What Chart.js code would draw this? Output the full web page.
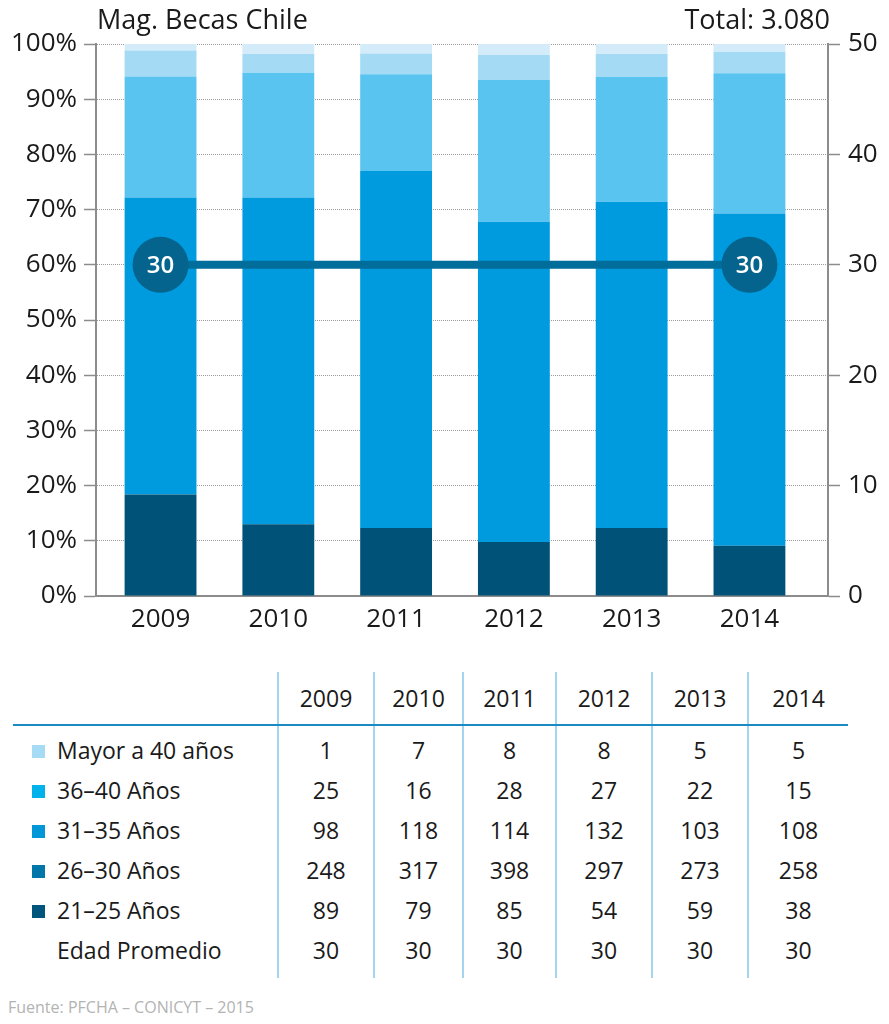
<!DOCTYPE html>
<html>
<head>
<meta charset="utf-8">
<script src="https://cdn.jsdelivr.net/npm/chart.js@4.4.1/dist/chart.umd.min.js"></script>
<style>
html,body{margin:0;padding:0;background:#fff;width:889px;height:1024px;overflow:hidden;font-family:"Open Sans",sans-serif;color:#1a1a1a}
#wrap{position:relative;width:889px;height:1024px}
#c{position:absolute;left:0;top:0}
#tbl{position:absolute;left:13px;top:672px;border-collapse:collapse;table-layout:fixed;width:835px;font-size:23px}
#tbl th{font-weight:normal;height:52px;padding:0;border-bottom:2px solid #1b8ac4;text-align:center;vertical-align:middle}
#tbl td{padding:0;text-align:center;vertical-align:middle;height:40px;white-space:nowrap}
#tbl .yc{border-left:2px solid #a3d5ee}
#tbl td.lab{text-align:left;padding-left:19px}
#tbl .sh{position:relative;top:4px}
#tbl tr.spacer td{height:12px}
.sq{display:inline-block;width:13px;height:13px;margin-right:12px;vertical-align:middle;position:relative;top:-1px}
.lab .nosq{display:inline-block;width:25px}
#foot{position:absolute;left:8px;top:997px;font-size:16px;line-height:20px;color:#b3b3b3}
</style>
</head>
<body>
<div id="wrap">
<canvas id="c" width="889" height="650" style="width:889px;height:650px"></canvas>
<table id="tbl"></table>
<div id="foot">Fuente: PFCHA – CONICYT – 2015</div>
</div>
<script>
// ---- Data ----
const years = ['2009', '2010', '2011', '2012', '2013', '2014'];
const chartTitle = 'Mag. Becas Chile';
const totalText = 'Total: 3.080';

// Bar segment shares (%)
const pct2125 = [18.4, 13.0, 12.3, 9.8, 12.3, 9.1];
const pct2630 = [53.8, 59.2, 64.7, 58.0, 59.1, 60.2];
const pct3135 = [21.9, 22.6, 17.5, 25.7, 22.6, 25.4];
const pct3640 = [4.7, 3.4, 3.8, 4.5, 4.2, 3.9];
const pctMayor40 = [1.2, 1.8, 1.7, 2.0, 1.8, 1.4];

// Average age (right axis)
const avgAge = [30, 30, 30, 30, 30, 30];

// Table counts
const nMayor40 = [1, 7, 8, 8, 5, 5];
const n3640 = [25, 16, 28, 27, 22, 15];
const n3135 = [98, 118, 114, 132, 103, 108];
const n2630 = [248, 317, 398, 297, 273, 258];
const n2125 = [89, 79, 85, 54, 59, 38];

const tableLabels = ['Mayor a 40 años', '36-40 Años', '31-35 Años', '26-30 Años', '21-25 Años', 'Edad Promedio'];
const tableColors = ['#a5dbf5', '#00b2ec', '#0097d8', '#0077a8', '#00557c', null];
const tableRows = [nMayor40, n3640, n3135, n2630, n2125, avgAge];

// ---- Table ----
(function buildTable(){
  const t = document.getElementById('tbl');
  const colW = [265, 96, 89, 93, 96, 96, 100];
  let html = '<colgroup>' + colW.map(w => '<col style="width:' + w + 'px">').join('') + '</colgroup>';
  html += '<tr><th></th>' + years.map(y => '<th class="yc">' + y + '</th>').join('') + '</tr>';
  tableRows.forEach((row, r) => {
    const lab = tableLabels[r].replace('-', '–');
    const sq = tableColors[r] ? '<span class="sq" style="background:' + tableColors[r] + '"></span>' : '<span class="nosq"></span>';
    html += '<tr><td class="lab"><div class="sh">' + sq + lab + '</div></td>' +
      row.map(v => '<td class="yc"><div class="sh">' + v + '</div></td>').join('') + '</tr>';
  });
  html += '<tr class="spacer"><td></td>' + years.map(() => '<td class="yc"></td>').join('') + '</tr>';
  t.innerHTML = html;
})();

// ---- Chart ----
Chart.defaults.font.family = '"Open Sans", sans-serif';
Chart.defaults.color = '#1a1a1a';

const xy = arr => arr.map((v, i) => ({x: i, y: v}));
const barDs = (label, arr, color) => ({
  type: 'bar', label, data: xy(arr), backgroundColor: color,
  borderWidth: 0, barPercentage: 0.61, categoryPercentage: 1, yAxisID: 'y', order: 2
});

const axisGray = '#8c8c8c';

const textPlugin = {
  id: 'texts',
  afterDatasetsDraw(chart) {
    const ctx = chart.ctx;
    const meta = chart.getDatasetMeta(5);
    ctx.save();
    ctx.font = '600 24px "Open Sans"';
    ctx.fillStyle = '#ffffff';
    ctx.textAlign = 'center';
    ctx.textBaseline = 'middle';
    [0, avgAge.length - 1].forEach(i => {
      const el = meta.data[i];
      ctx.fillText(String(avgAge[i]), el.x, el.y + 1);
    });
    ctx.restore();
  },
  afterDraw(chart) {
    const {ctx, chartArea} = chart;
    ctx.save();
    ctx.font = '27px "Open Sans"';
    ctx.fillStyle = '#1a1a1a';
    ctx.textBaseline = 'alphabetic';
    ctx.textAlign = 'left';
    ctx.fillText(chartTitle, chartArea.left + 1, 29);
    ctx.textAlign = 'right';
    ctx.fillText(totalText, chartArea.right + 2, 29);
    ctx.restore();
  }
};

new Chart(document.getElementById('c'), {
  type: 'bar',
  data: {
    datasets: [
      barDs('21-25 Años', pct2125, '#005278'),
      barDs('26-30 Años', pct2630, '#009bde'),
      barDs('31-35 Años', pct3135, '#5ac4f0'),
      barDs('36-40 Años', pct3640, '#a5daf5'),
      barDs('Mayor a 40 años', pctMayor40, '#d4ecfa'),
      {
        type: 'line', label: 'Edad Promedio', data: xy(avgAge), yAxisID: 'y1',
        borderColor: '#006d9a', borderWidth: 8, fill: false, tension: 0,
        pointRadius: c => (c.dataIndex === 0 || c.dataIndex === avgAge.length - 1) ? 28 : 0,
        pointHoverRadius: c => (c.dataIndex === 0 || c.dataIndex === avgAge.length - 1) ? 28 : 0,
        pointBackgroundColor: '#04648e', pointBorderWidth: 0, order: 0
      }
    ]
  },
  options: {
    responsive: false,
    animation: false,
    devicePixelRatio: 1,
    layout: {padding: {top: 44, left: 0, right: 0, bottom: 0}},
    plugins: {legend: {display: false}, tooltip: {enabled: false}, title: {display: false}},
    events: [],
    scales: {
      x: {
        type: 'linear', min: -0.548, max: 5.667, stacked: true, offset: false,
        grid: {display: false, drawTicks: false, offset: false},
        border: {display: true, color: axisGray, width: 2},
        afterBuildTicks: s => { s.ticks = years.map((_, i) => ({value: i})); },
        ticks: {callback: v => years[v], font: {size: 26}, color: '#1a1a1a', padding: 8, autoSkip: false, maxRotation: 0},
        afterFit: s => { s.height = 54; }
      },
      y: {
        position: 'left', stacked: true, min: 0, max: 100,
        ticks: {stepSize: 10, callback: v => v + '%', font: {size: 26}, color: '#1a1a1a', padding: 7},
        grid: {color: '#9b9b9b', lineWidth: 1, tickLength: 12, tickColor: axisGray, tickWidth: 1.5, tickBorderDash: []},
        border: {display: true, color: axisGray, width: 2, dash: [1, 1]},
        afterFit: s => { s.width = 96; }
      },
      y1: {
        position: 'right', min: 0, max: 50,
        ticks: {stepSize: 10, font: {size: 26}, color: '#1a1a1a', padding: 8},
        grid: {drawOnChartArea: false, tickLength: 12, tickColor: axisGray, tickWidth: 1.5, color: '#9b9b9b'},
        border: {display: true, color: axisGray, width: 2},
        afterFit: s => { s.width = 61; }
      }
    }
  },
  plugins: [textPlugin]
});
</script>
</body>
</html>
